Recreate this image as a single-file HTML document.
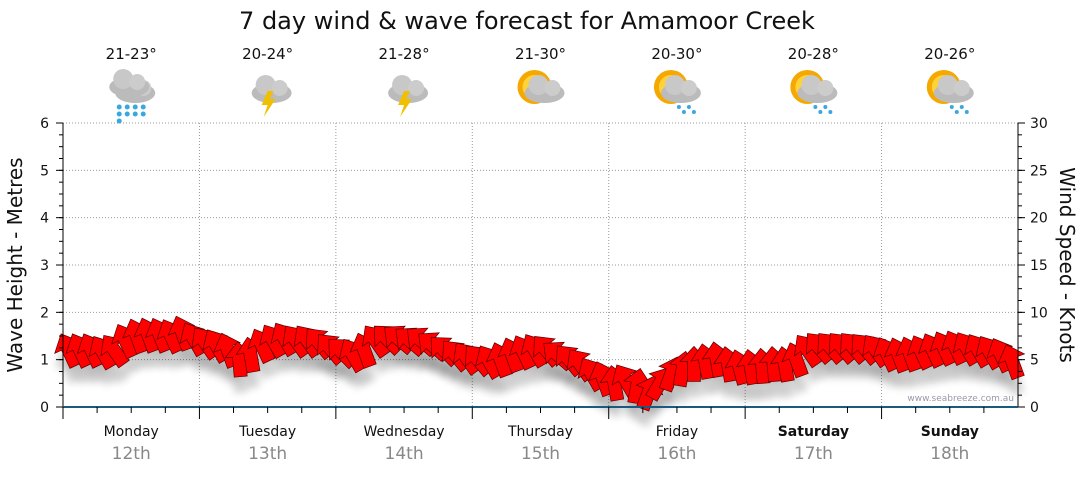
<!DOCTYPE html>
<html><head><meta charset="utf-8"><style>
body{margin:0;background:#fff;font-family:"Liberation Sans",sans-serif}
svg text{font-family:"DejaVu Sans","Liberation Sans",sans-serif}
</style></head><body>
<svg id="c" width="1080" height="475">
<defs>
<filter id="sh" x="-50%" y="-50%" width="200%" height="200%"><feGaussianBlur stdDeviation="4"/></filter>
<g id="cloud"><ellipse cx="0" cy="0" rx="20" ry="10" fill="#bbb"/><circle cx="-6" cy="-8" r="10" fill="#c8c8c8"/><circle cx="8" cy="-5" r="8" fill="#ccc"/></g>
</defs>
<text x="527" y="29" font-size="24" text-anchor="middle" fill="#111">7 day wind &amp; wave forecast for Amamoor Creek</text>
<g id="grid"></g><g id="marks"></g><g id="axes"></g>
<text x="1014" y="401" font-size="9" text-anchor="end" fill="#99a">www.seabreeze.com.au</text>
<text transform="translate(22,265) rotate(-90)" font-size="20" text-anchor="middle" fill="#111">Wave Height - Metres</text>
<text transform="translate(1060,265) rotate(90)" font-size="20" text-anchor="middle" fill="#111">Wind Speed - Knots</text>
</svg>
<script>
const days=["Monday","Tuesday","Wednesday","Thursday","Friday","Saturday","Sunday"];
const dates=["12th","13th","14th","15th","16th","17th","18th"];
const temps=["21-23°","20-24°","21-28°","21-30°","20-30°","20-28°","20-26°"];
const icons=["rain","storm","storm","sun","sunrain","sunrain","sunrain"];
const waveTicks=[0,1,2,3,4,5,6];
const windTicks=[0,5,10,15,20,25,30];
const windSpeed=[6,6,6,5.8,6,7,7.5,7.6,7.6,7.5,7.8,7.2,
6.8,6.5,6,5,5.5,6.5,7,7.2,7,7,6.8,6.2,
5.8,5.5,6,7,7.2,7.2,7,7,6.5,6,5.5,5.2,
5,4.8,5,5.5,5.8,6,6,5.5,5,4.5,3.5,3,
2.5,2.8,2.2,1.5,2.5,3.5,4,4.5,4.8,5,4.5,4.2,
4.2,4.3,4.5,4.5,5,6,6.3,6.3,6.3,6.3,6.2,6,
5.6,5.5,5.6,5.8,6,6.2,6.3,6.2,6,5.8,5.5,4.8];
const windDir=[-115,-115,-115,-120,-125,-115,-110,-110,-112,-115,-110,-120,
-125,-120,-110,-95,-100,-115,-120,-120,-125,-125,-130,-130,
-135,-120,-110,-125,-135,-140,-140,-140,-140,-135,-130,-125,
-130,-120,-110,-110,-115,-120,-130,-140,-130,-125,-120,-110,
-100,-120,-80,-70,-60,-70,-80,-90,-100,-100,-100,-105,
-100,-95,-95,-100,-110,-125,-130,-130,-130,-130,-130,-125,
-115,-110,-110,-115,-115,-115,-115,-120,-120,-120,-115,-110];
const X0=63,X1=1018,Y0=407,Y1=123,NS="http://www.w3.org/2000/svg";
const dayW=(X1-X0)/7;
const xs=i=>X0+(i+0.5)*(X1-X0)/windSpeed.length;
const yW=m=>Y0-(m/6)*(Y0-Y1);
const yK=k=>Y0-(k/30)*(Y0-Y1);
function el(t,a,p){const e=document.createElementNS(NS,t);for(const k in a)e.setAttribute(k,a[k]);p.appendChild(e);return e;}
const grid=document.getElementById('grid'),axes=document.getElementById('axes'),marks=document.getElementById('marks'),svg=document.getElementById('c');
waveTicks.forEach(v=>{const y=yW(v);
 if(v>0){const g=el('line',{x1:X0,x2:X1,y1:y,y2:y,stroke:'#999','stroke-dasharray':'1,2'},grid);}
 const t=el('text',{x:X0-14,y:y+5,'font-size':14,'text-anchor':'end',fill:'#111'},axes);t.textContent=v;
 
 el('line',{x1:X0-7,x2:X0,y1:y,y2:y,stroke:'#000'},axes);});
for(let m=0;m<6;m+=0.25){const y=yW(m);el('line',{x1:X0-4,x2:X0,y1:y,y2:y,stroke:'#000'},axes);}
windTicks.forEach(v=>{const y=yK(v);
 const t=el('text',{x:X1+12,y:y+5,'font-size':14,fill:'#111'},axes);t.textContent=v;
 
 el('line',{x1:X1,x2:X1+7,y1:y,y2:y,stroke:'#000'},axes);});
for(let k=0;k<30;k+=1.25){const y=yK(k);el('line',{x1:X1,x2:X1+4,y1:y,y2:y,stroke:'#000'},axes);}
el('line',{x1:X0,x2:X0,y1:Y1,y2:Y0,stroke:'#000'},axes);
el('line',{x1:X1,x2:X1,y1:Y1,y2:Y0,stroke:'#000'},axes);
el('line',{x1:X0,x2:X1,y1:Y0,y2:Y0,stroke:'#1a5a80','stroke-width':2},axes);
for(let d=0;d<7;d++){const x=X0+d*dayW,cx=x+dayW/2;
 if(d>0){const g=el('line',{x1:x,x2:x,y1:Y1,y2:Y0,stroke:'#999','stroke-dasharray':'1,2'},grid);}
 el('line',{x1:x,x2:x,y1:Y0,y2:Y0+12,stroke:'#000'},axes);
 for(let q=1;q<4;q++)el('line',{x1:x+q*dayW/4,x2:x+q*dayW/4,y1:Y0,y2:Y0+6,stroke:'#000'},axes);
 const t=el('text',{x:cx,y:436,'font-size':14,'text-anchor':'middle',fill:'#111','font-weight':d>=5?'bold':'normal'},svg);t.textContent=days[d];
 
 const t2=el('text',{x:cx,y:459,'font-size':17,'text-anchor':'middle',fill:'#888'},svg);t2.textContent=dates[d];
 
 const t3=el('text',{x:cx,y:59,'font-size':15,'text-anchor':'middle',fill:'#111'},svg);t3.textContent=temps[d];
 
 const g=el('g',{transform:`translate(${cx},${93})`},svg);
 
 const ic=icons[d];
 if(ic!=='rain'&&ic!=='storm'){el('circle',{cx:-6,cy:-6,r:17,fill:'#f5a800'},g);el('circle',{cx:-6,cy:-6,r:12,fill:'#ffd23a'},g);}
 el('use',{href:'#cloud',x:4,y:0},g);
 if(ic==='rain'){el('use',{href:'#cloud',x:-2,y:-6},g);for(let i=0;i<9;i++)el('circle',{cx:-12+(i%4)*8,cy:14+Math.floor(i/4)*7,r:2.5,fill:'#3aa8e0'},g);}
 if(ic==='storm')el('path',{d:'M0,-2 L-6,12 L0,12 L-4,24 L8,6 L2,6 L6,-2Z',fill:'#f0c000'},g);
 if(ic==='sunrain')for(let i=0;i<4;i++)el('circle',{cx:2+i*5,cy:14+(i%2)*5,r:2,fill:'#3aa8e0'},g);
}
const pts='-17,-6.5 3,-6.5 3,-14 18,0 3,14 3,6.5 -17,6.5';
windSpeed.forEach((s,i)=>{const x=xs(i),y=yK(s);
 const sh=el('polygon',{points:pts,fill:'#000',opacity:0.18,filter:'url(#sh)',transform:`translate(${x},${y+16}) rotate(${windDir[i]})`},marks);
 });
windSpeed.forEach((s,i)=>{const x=xs(i),y=yK(s);
 const a=el('polygon',{points:pts,fill:'#ff0000',stroke:'#5a0000','stroke-width':0.7,transform:`translate(${x},${y}) rotate(${windDir[i]})`},marks);
 });
</script>
</body></html>
